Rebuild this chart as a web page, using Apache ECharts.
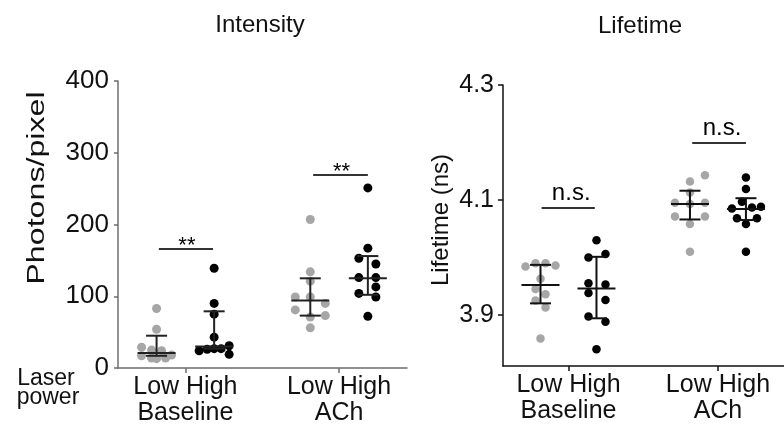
<!DOCTYPE html>
<html>
<head>
<meta charset="utf-8">
<script src="https://cdn.jsdelivr.net/npm/echarts@6/dist/echarts.min.js"></script>
<style>
  html, body { margin: 0; padding: 0; background: #fff; }
  #chart { width: 784px; height: 430px; }
</style>
</head>
<body>
<div id="chart"></div>
<script>
// x positions of the four groups: Low/High laser power for Baseline and ACh
const groupX = [1, 2, 3.67, 4.67]
const groupTickX = [1.5, 4.17]
const groupLabels = ['Low High\nBaseline', 'Low High\nACh']

// Intensity (photons/pixel)
const intLowBase = [83, 54, 29, 25, 24, 17, 14, 14, 18, 13]
const intHighBase = [139, 90, 75, 43, 31, 27, 27, 26, 24, 19]
const intLowACh = [207, 134, 121, 99, 99, 90, 81, 73, 71, 56]
const intHighACh = [251, 167, 153, 145, 126, 126, 113, 104, 99, 72]
const intMedian = [21, 30, 94, 125]
const intQ1 = [17, 27, 73, 102]
const intQ3 = [45, 79, 125, 156]
const intTicks = [0, 100, 200, 300, 400]

// Lifetime (ns)
const lifeLowBase = [3.984, 3.990, 3.990, 3.986, 3.963, 3.945, 3.936, 3.925, 3.913, 3.859]
const lifeHighBase = [4.030, 4.000, 4.006, 3.955, 3.953, 3.938, 3.926, 3.897, 3.888, 3.840]
const lifeLowACh = [4.143, 4.132, 4.113, 4.095, 4.093, 4.095, 4.071, 4.071, 4.058, 4.010]
const lifeHighACh = [4.139, 4.119, 4.097, 4.085, 4.087, 4.088, 4.068, 4.068, 4.058, 4.010]
const lifeMedian = [3.952, 3.946, 4.093, 4.084]
const lifeQ1 = [3.920, 3.894, 4.066, 4.065]
const lifeQ3 = [3.987, 4.001, 4.116, 4.103]
const lifeTicks = [3.9, 4.1, 4.3]

// significance brackets [x from, x to, y] and their labels
const intSig = [[1.04, 1.98, 166], [3.72, 4.67, 269]]
const intSigText = ['**', '**']
const lifeSig = [[1.02, 1.97, 4.086], [3.71, 4.67, 4.199]]
const lifeSigText = ['n.s.', 'n.s.']

// horizontal scatter of the dots, in pixels (layout only)
const jitInt = [
  [0, 0, -15, -5, 5, -15, -5, 9, 15, 0],
  [0, 0, 0, 0, 15, 7, 0, -7, -15, 15],
  [0, 0, 0, -15, 0, 15, -15, 15, 0, 0],
  [0, 0, -9, 8, -9, 8, 8, -9, 8, 0]
]
const jitLife = [
  [-15, -5, 5, 15, 0, -5, 5, -5, 5, 0],
  [0, -8, 9, -8, 9, -8, 9, -8, 9, 0],
  [15, 0, 0, -15, 0, 15, -15, 15, 0, 0],
  [0, 0, -4, -14, 6, 15, -9, 11, 0, 0]
]

const FONT = 'Liberation Sans, Arial, Helvetica, sans-serif'
const X_MIN = 0.33
const X_MAX = 5.35
const LEFT_W = 289
const RIGHT_W = 281
const GRAY = '#a6a6a6'

function dots (values, gi, jit, pxW) {
  const unit = (X_MAX - X_MIN) / pxW
  return values.map((v, i) => [groupX[gi] + jit[i] * unit, v])
}

function errorBars (color) {
  return function (params, api) {
    const x = api.value(0)
    const m = api.coord([x, api.value(1)])
    const lo = api.coord([x, api.value(2)])
    const hi = api.coord([x, api.value(3)])
    const st = { stroke: color, lineWidth: 2 }
    return {
      type: 'group',
      children: [
        { type: 'line', shape: { x1: m[0] - 19, y1: m[1], x2: m[0] + 19, y2: m[1] }, style: st },
        { type: 'line', shape: { x1: lo[0], y1: lo[1], x2: hi[0], y2: hi[1] }, style: st },
        { type: 'line', shape: { x1: lo[0] - 10.5, y1: lo[1], x2: lo[0] + 10.5, y2: lo[1] }, style: st },
        { type: 'line', shape: { x1: hi[0] - 10.5, y1: hi[1], x2: hi[0] + 10.5, y2: hi[1] }, style: st }
      ]
    }
  }
}

function sigBracket (labels, fontSize, textUp, textDx) {
  return function (params, api) {
    const a = api.coord([api.value(0), api.value(2)])
    const b = api.coord([api.value(1), api.value(2)])
    return {
      type: 'group',
      children: [
        { type: 'line', shape: { x1: a[0], y1: a[1], x2: b[0], y2: b[1] }, style: { stroke: '#333', lineWidth: 2 } },
        {
          type: 'text',
          style: {
            text: labels[params.dataIndex],
            x: (a[0] + b[0]) / 2 + textDx,
            y: a[1] - textUp,
            fill: '#000',
            font: fontSize + 'px ' + FONT,
            align: 'center', verticalAlign: 'middle',
            textAlign: 'center', textVerticalAlign: 'middle'
          }
        }
      ]
    }
  }
}

function statRows (med, q1, q3) {
  return groupX.map((x, i) => [x, med[i], q1[i], q3[i]])
}

function xAxisCfg (gridIndex, color) {
  return {
    gridIndex: gridIndex,
    type: 'value',
    min: X_MIN,
    max: X_MAX,
    axisLine: { show: true, onZero: false, lineStyle: { color: color, width: 1.5 } },
    axisTick: { show: true, customValues: groupTickX, length: 5, lineStyle: { color: color, width: 1.5 } },
    axisLabel: {
      customValues: groupTickX,
      formatter: v => (v < 3 ? groupLabels[0] : groupLabels[1]),
      fontSize: 25, lineHeight: 26, color: '#111', fontFamily: FONT, margin: 6
    },
    splitLine: { show: false }
  }
}

function centerText (text, x, y, size) {
  return {
    type: 'text', x: x, y: y,
    style: { text: text, font: size + 'px ' + FONT, fill: '#111', align: 'center', verticalAlign: 'middle', textAlign: 'center', textVerticalAlign: 'middle' }
  }
}

const chart = echarts.init(document.getElementById('chart'))

const option = {
  animation: false,
  backgroundColor: '#fff',
  grid: [
    { left: 118, top: 81, width: LEFT_W, height: 287, containLabel: false, outerBoundsMode: 'none' },
    { left: 503, top: 85, width: RIGHT_W, height: 281, containLabel: false, outerBoundsMode: 'none' }
  ],
  xAxis: [xAxisCfg(0, '#6e6e6e'), xAxisCfg(1, '#111')],
  yAxis: [
    {
      gridIndex: 0, type: 'value', min: 0, max: 400, interval: 100,
      axisLine: { show: true, onZero: false, lineStyle: { color: '#6e6e6e', width: 1.5 } },
      axisTick: { show: true, length: 4, lineStyle: { color: '#6e6e6e', width: 1.5 } },
      axisLabel: { customValues: intTicks, fontSize: 26, color: '#111', fontFamily: FONT, margin: 9 },
      splitLine: { show: false }
    },
    {
      gridIndex: 1, type: 'value', min: 3.811, max: 4.3,
      axisLine: { show: true, onZero: false, lineStyle: { color: '#111', width: 1.5 } },
      axisTick: { show: true, customValues: lifeTicks, length: 5, lineStyle: { color: '#111', width: 1.5 } },
      axisLabel: {
        customValues: lifeTicks, formatter: v => v.toFixed(1),
        fontSize: 25, color: '#111', fontFamily: FONT, margin: 9
      },
      splitLine: { show: false }
    }
  ],
  series: [
    { type: 'scatter', xAxisIndex: 0, yAxisIndex: 0, symbolSize: 9, itemStyle: { color: GRAY, opacity: 1 },
      data: dots(intLowBase, 0, jitInt[0], LEFT_W).concat(dots(intLowACh, 2, jitInt[2], LEFT_W)) },
    { type: 'scatter', xAxisIndex: 0, yAxisIndex: 0, symbolSize: 9, itemStyle: { color: '#000', opacity: 1 },
      data: dots(intHighBase, 1, jitInt[1], LEFT_W).concat(dots(intHighACh, 3, jitInt[3], LEFT_W)) },
    { type: 'scatter', xAxisIndex: 1, yAxisIndex: 1, symbolSize: 8.5, itemStyle: { color: GRAY, opacity: 1 },
      data: dots(lifeLowBase, 0, jitLife[0], RIGHT_W).concat(dots(lifeLowACh, 2, jitLife[2], RIGHT_W)) },
    { type: 'scatter', xAxisIndex: 1, yAxisIndex: 1, symbolSize: 8.5, itemStyle: { color: '#000', opacity: 1 },
      data: dots(lifeHighBase, 1, jitLife[1], RIGHT_W).concat(dots(lifeHighACh, 3, jitLife[3], RIGHT_W)) },
    { type: 'custom', xAxisIndex: 0, yAxisIndex: 0, z: 5, renderItem: errorBars('#222'),
      encode: { x: 0, y: [1, 2, 3] }, data: statRows(intMedian, intQ1, intQ3) },
    { type: 'custom', xAxisIndex: 1, yAxisIndex: 1, z: 5, renderItem: errorBars('#111'),
      encode: { x: 0, y: [1, 2, 3] }, data: statRows(lifeMedian, lifeQ1, lifeQ3) },
    { type: 'custom', xAxisIndex: 0, yAxisIndex: 0, z: 5, renderItem: sigBracket(intSigText, 22, 3, 1),
      encode: { x: [0, 1], y: 2 }, data: intSig },
    { type: 'custom', xAxisIndex: 1, yAxisIndex: 1, z: 5, renderItem: sigBracket(lifeSigText, 24, 14.5, 3),
      encode: { x: [0, 1], y: 2 }, data: lifeSig }
  ],
  graphic: [
    { type: 'text', left: 0, top: -30, style: { text: 'B', font: 'bold 30px ' + FONT, fill: '#000' } },
    centerText('Intensity', 260, 25, 24),
    centerText('Lifetime', 640, 26, 24),
    Object.assign(centerText('Photons/pixel', 38, 188, 23), { rotation: Math.PI / 2, scaleX: 1.4 }),
    Object.assign(centerText('Lifetime (ns)', 441, 220, 24), { rotation: Math.PI / 2 }),
    centerText('Laser', 46, 379, 23),
    centerText('power', 48, 398, 23)
  ]
}

chart.setOption(option)
</script>
</body>
</html>
